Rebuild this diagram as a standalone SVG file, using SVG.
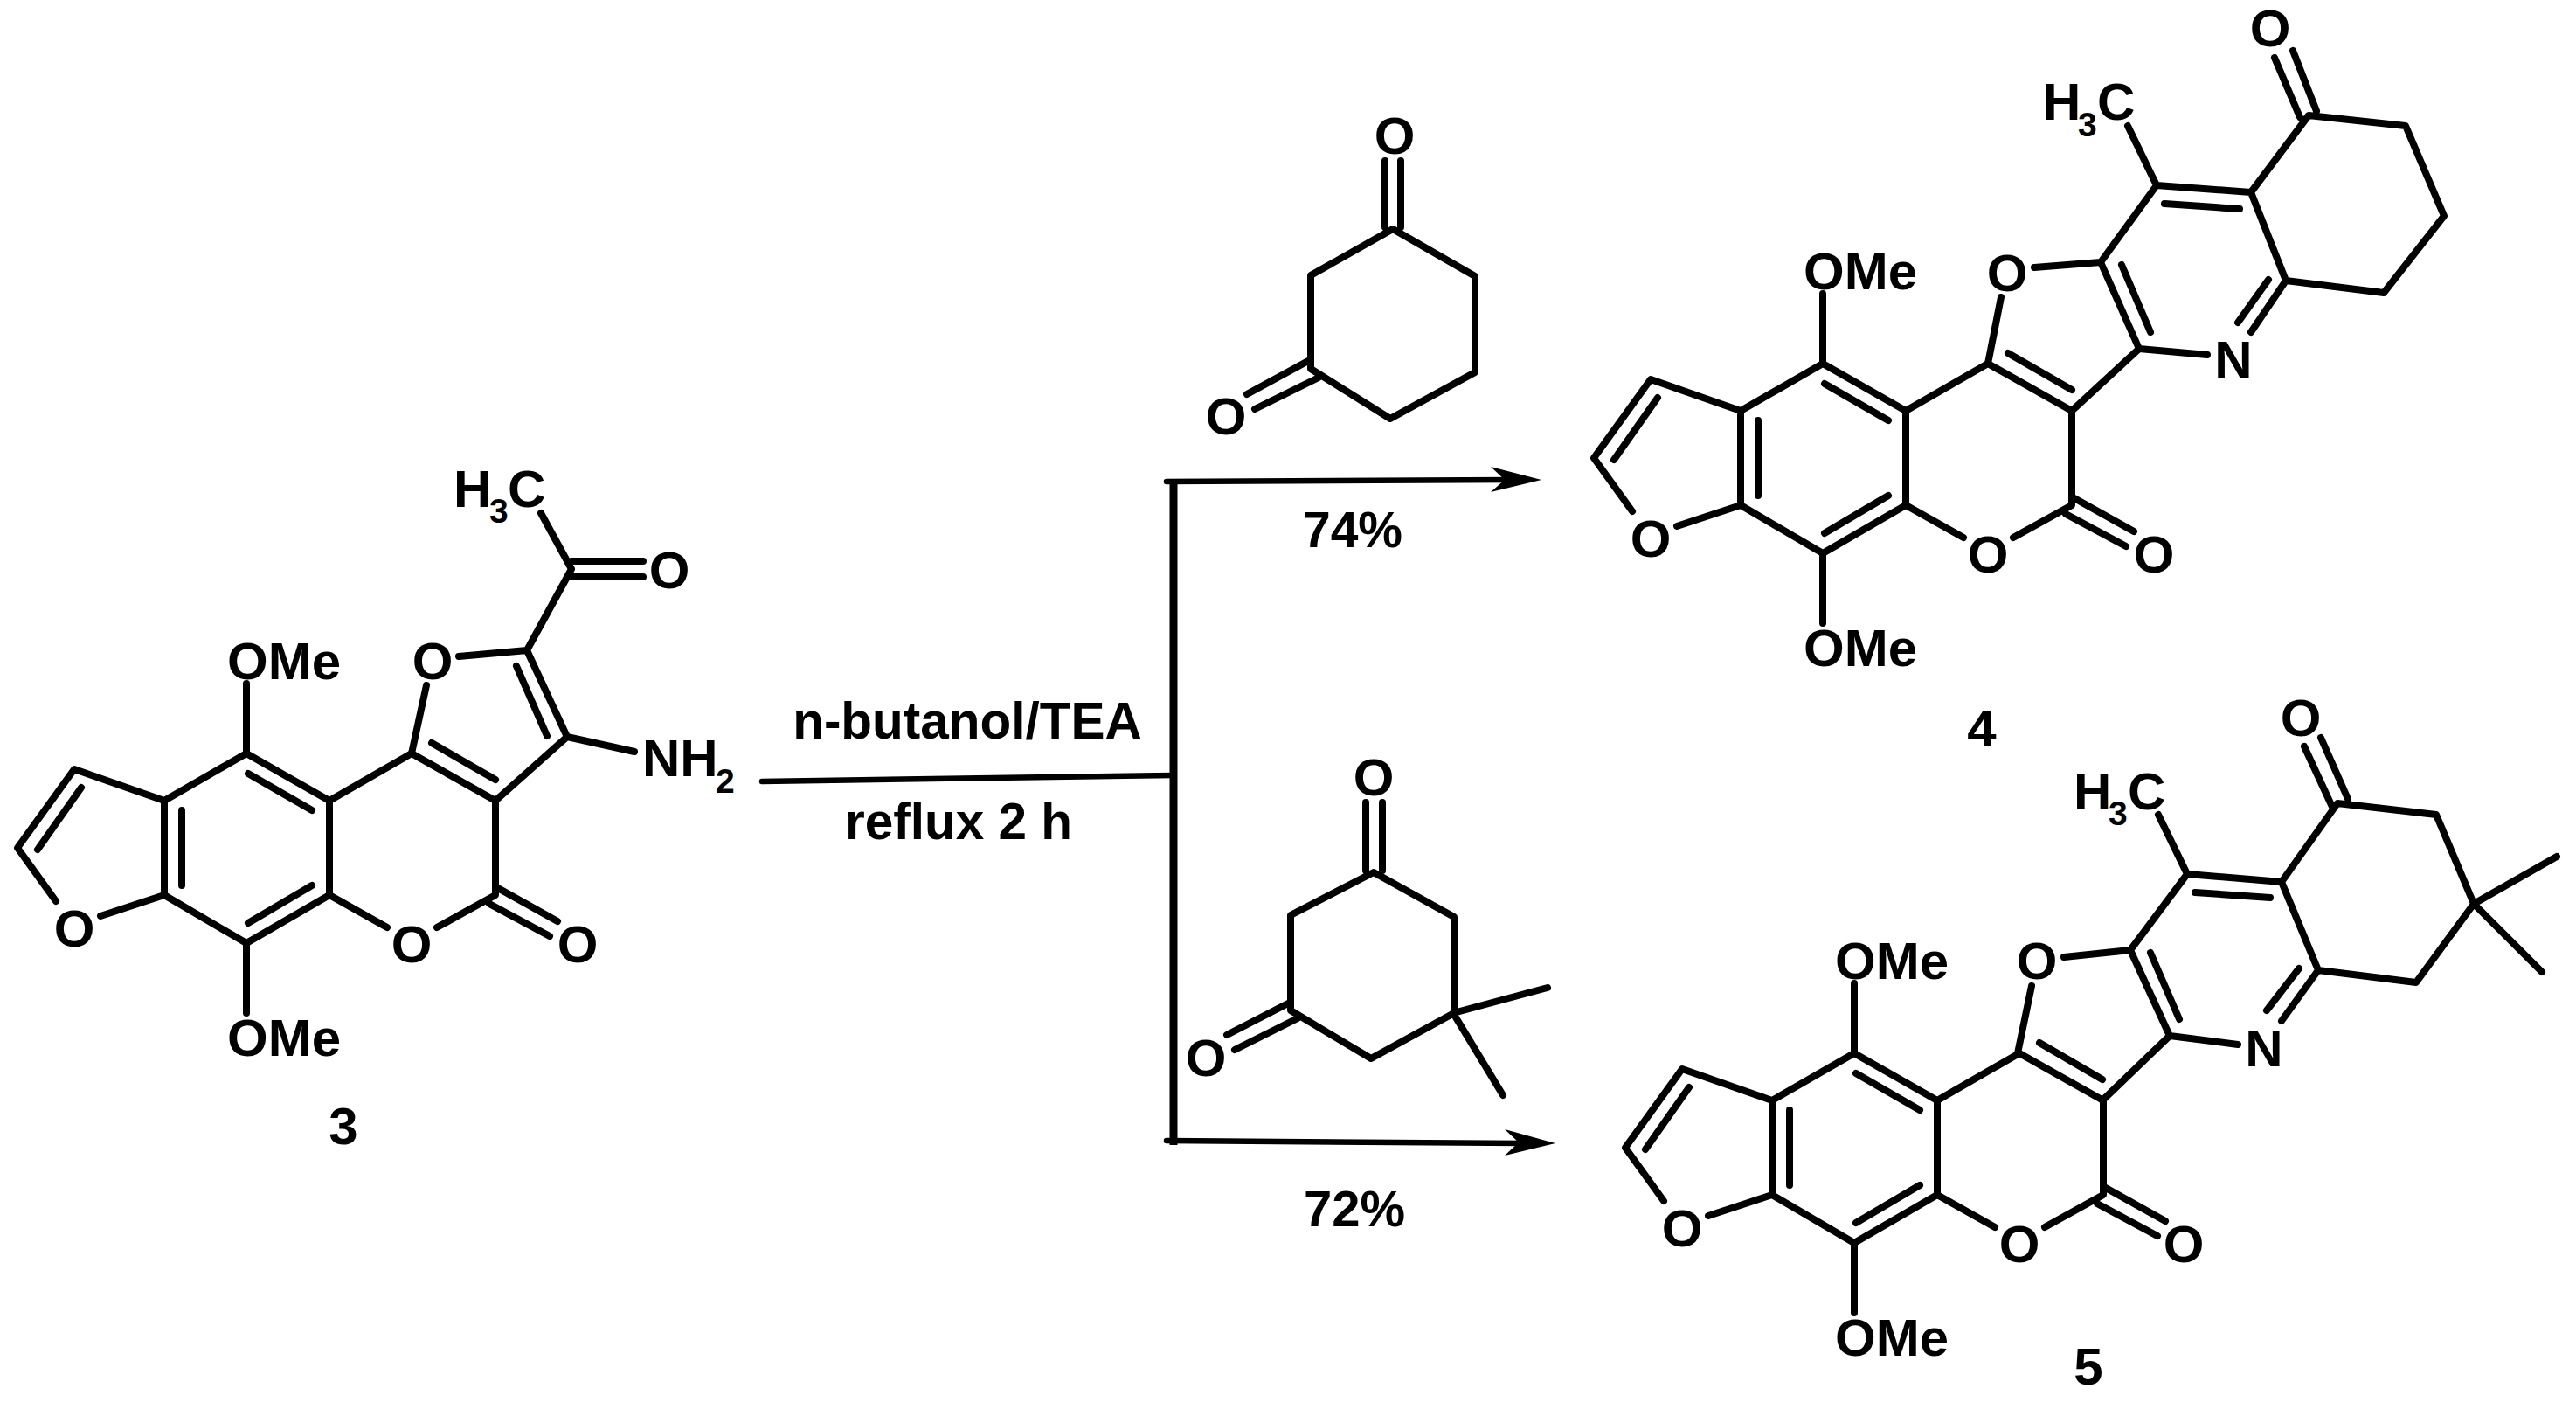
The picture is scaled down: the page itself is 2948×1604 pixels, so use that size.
<svg xmlns="http://www.w3.org/2000/svg" width="2948" height="1604" viewBox="0 0 2948 1604">
<style>
text{font-family:"Liberation Sans",Arial,sans-serif;font-weight:700;font-size:60px;fill:#000}
.m{text-anchor:middle}
.s{font-size:39px}
.r{font-size:58.5px}
path{fill:none;stroke:#000;stroke-width:8;stroke-linecap:round;stroke-linejoin:round}
.a{stroke-width:6.5}
.v{stroke-width:9;stroke-linecap:butt}
.h{fill:#000;stroke:none}
</style>
<rect width="2948" height="1604" fill="#fff"/>
<g id="connectors">
<path class="a" d="M872 894L1342 887"/>
<path class="v" d="M1343 550V1310"/>
<path class="a" d="M1335 551L1728 549"/>
<path class="h" d="M1764 549L1706 534L1722 549L1706 563Z"/>
<path class="a" d="M1335 1305L1742 1308"/>
<path class="h" d="M1780 1308L1722 1292L1738 1307L1722 1322Z"/>
</g>
<g id="compound-3">
<g>
<path d="M188 916L282 862L377 916V1024L282 1079L188 1024ZM188 916L85 880L20 970L64 1031M115 1048L188 1024M93 901L43 972M208 927V1013M284 885L357 927M284 1056L357 1013M282 862V782M282 1079V1159M377 916L471 862L567 916V1024L500 1061M377 1024L443 1061M568 1015L638 1054M560 1034L629 1071"/>
<text class="m" x="85" y="1083">O</text><text class="m" x="471" y="1101">O</text><text class="m" x="661" y="1101">O</text>
<text x="260" y="777">OMe</text><text x="260" y="1208">OMe</text>
</g>
<path d="M471 862L488 784M525 751L603 744L649 843L567 916M494 850L567 892M591 762L626 842M649 843L726 860M603 744L654 651L619 587M654 642H736M654 660H736"/>
<text class="m" x="495" y="777">O</text><text class="m" x="766" y="673">O</text>
<text x="735" y="888">NH</text><text class="s" x="819" y="907">2</text>
<text x="519" y="580">H</text><text class="s" x="560" y="598">3</text><text x="581" y="580">C</text>
<text class="m" x="393" y="1309">3</text>
</g>
<g id="reagent-a">
<path d="M1594 262L1688 316V426L1591 479L1500 422V315ZM1585 260V184M1603 260V184M1497 413L1427 451M1509 432L1436 468"/>
<text class="m" x="1596" y="176">O</text><text class="m" x="1403" y="497">O</text>
</g>
<g id="reagent-b">
<path d="M1572 998L1664 1049V1159L1569 1211L1477 1156V1047ZM1563 996V918M1582 996V918M1474 1148L1404 1184M1485 1165L1413 1201M1663 1159L1771 1130M1663 1159L1720 1253"/>
<text class="m" x="1572" y="910">O</text><text class="m" x="1380" y="1231">O</text>
</g>
<g id="labels">
<text class="m r" x="1107" y="845">n-butanol/TEA</text>
<text class="m r" x="1097" y="960">reflux 2 h</text>
<text class="m" style="font-size:57px" x="1548" y="626">74%</text>
<text class="m" style="font-size:58px" x="1550" y="1403">72%</text>
</g>
<g id="compound-4">
<g transform="translate(1804 -446)">
<path d="M188 916L282 862L377 916V1024L282 1079L188 1024ZM188 916L85 880L20 970L64 1031M115 1048L188 1024M93 901L43 972M208 927V1013M284 885L357 927M284 1056L357 1013M282 862V782M282 1079V1159M377 916L471 862L567 916V1024L500 1061M377 1024L443 1061M568 1015L638 1054M560 1034L629 1071"/>
<text class="m" x="85" y="1083">O</text><text class="m" x="471" y="1101">O</text><text class="m" x="661" y="1101">O</text>
<text x="260" y="777">OMe</text><text x="260" y="1208">OMe</text>
</g>
<path d="M2275 416L2290 340M2328 306L2404 300L2448 399L2371 470M2298 404L2371 446M2428 303L2461 380M2448 399L2526 406M2404 300L2468 212L2576 220L2616 321L2576 380M2477 233L2563 239M2596 320L2561 369M2468 212L2435 144M2576 220L2642 132L2753 144L2797 247L2728 335L2616 321M2624 58L2651 127M2603 66L2632 134"/>
<text class="m" x="2297" y="333">O</text><text class="m" x="2556" y="432">N</text><text class="m" x="2598" y="53">O</text>
<text x="2338" y="137">H</text><text class="s" x="2378" y="156">3</text><text x="2400" y="137">C</text>
<text class="m" x="2268" y="854">4</text>
</g>
<g id="compound-5">
<g transform="translate(1840 343)">
<path d="M188 916L282 862L377 916V1024L282 1079L188 1024ZM188 916L85 880L20 970L64 1031M115 1048L188 1024M93 901L43 972M208 927V1013M284 885L357 927M284 1056L357 1013M282 862V782M282 1079V1159M377 916L471 862L567 916V1024L500 1061M377 1024L443 1061M568 1015L638 1054M560 1034L629 1071"/>
<text class="m" x="85" y="1083">O</text><text class="m" x="471" y="1101">O</text><text class="m" x="659" y="1101">O</text>
<text x="260" y="777">OMe</text><text x="260" y="1208">OMe</text>
</g>
<path d="M2309 1205L2325 1128M2362 1095L2438 1087L2483 1185L2406 1259M2334 1193L2406 1235M2461 1090L2494 1166M2483 1185L2561 1195M2438 1087L2503 1000L2611 1009L2653 1110L2611 1168M2512 1021L2598 1027M2631 1108L2594 1156M2503 1000L2470 932M2611 1009L2675 919L2788 932L2831 1034L2765 1124L2653 1110M2656 844L2687 914M2637 854L2669 923M2831 1034L2926 980M2831 1034L2909 1112"/>
<text class="m" x="2331" y="1120">O</text><text class="m" x="2591" y="1220">N</text><text class="m" x="2633" y="842">O</text>
<text x="2373" y="926">H</text><text class="s" x="2413" y="944">3</text><text x="2435" y="926">C</text>
<text class="m" x="2390" y="1584">5</text>
</g>
</svg>
